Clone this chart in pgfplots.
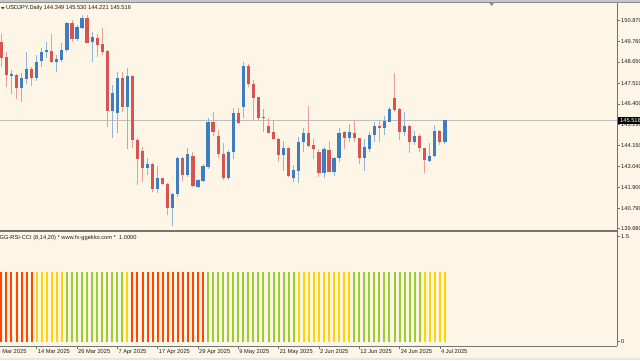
\documentclass[border=0pt]{standalone}
\usepackage{pgfplots}
\pgfplotsset{compat=1.18}
\usepackage{pgfplotstable}
\usepackage{fontspec}
\setmainfont{Liberation Sans}
\definecolor{bg}{RGB}{253,246,231}
\definecolor{bullc}{RGB}{62,126,192}
\definecolor{bearc}{RGB}{214,84,84}
\definecolor{framec}{RGB}{115,115,115}
\definecolor{txt}{RGB}{30,30,30}
\definecolor{bidc}{RGB}{190,190,190}
\definecolor{ored}{RGB}{255,69,0}
\definecolor{gold}{RGB}{255,212,0}
\definecolor{ygreen}{RGB}{154,205,50}
\newcommand\tf{\fontsize{5.7}{6.5}\selectfont}

\pgfplotstableread{
i o h l c
2 147.95 148.22 146.91 148.00
4 147.23 148.04 146.52 147.81
5 147.73 149.20 147.45 148.25
7 147.77 149.03 147.63 148.67
8 148.70 149.38 148.40 149.20
9 149.20 149.74 148.85 149.29
11 148.67 149.03 148.13 148.79
12 148.74 149.65 148.67 149.29
13 149.29 150.80 149.20 150.73
15 149.87 150.64 149.78 150.55
16 150.50 151.18 150.42 151.03
18 149.74 150.28 148.67 149.98
22 146.01 147.41 144.54 146.96
23 145.90 148.13 144.81 147.81
25 146.25 148.31 143.97 147.90
29 142.97 143.47 142.57 143.16
31 141.82 143.07 141.58 142.39
34 140.78 141.58 139.85 141.53
35 141.53 143.56 141.41 143.47
37 142.57 144.00 142.48 143.70
39 141.94 142.36 141.89 142.28
40 142.25 143.14 142.21 143.05
41 143.02 145.65 142.89 145.40
45 142.39 143.92 142.30 143.79
46 143.79 146.19 143.43 145.89
48 146.25 148.63 145.65 148.45
52 145.62 146.10 144.87 145.71
56 143.65 144.40 142.79 144.00
58 142.43 143.11 142.21 142.84
59 142.80 144.63 142.12 144.33
60 144.33 145.12 143.83 144.81
64 142.66 144.09 142.39 143.95
66 142.75 143.56 142.53 143.50
67 143.47 145.08 143.25 144.81
69 144.54 145.30 144.36 144.87
72 143.47 144.51 142.79 144.09
73 143.97 144.90 143.83 144.72
74 144.72 145.40 144.33 145.22
76 145.08 145.76 144.72 145.48
77 145.44 146.25 145.40 146.12
80 144.90 145.98 144.69 145.22
82 144.36 144.94 144.18 144.69
85 143.34 144.27 143.25 143.61
86 143.61 145.26 143.56 144.94
88 144.349 145.530 144.221 145.516
}\bull

\pgfplotstableread{
i o h l c
0 149.74 150.14 148.40 148.88
1 148.92 149.20 147.32 147.95
3 147.93 147.99 146.64 147.23
6 148.25 148.40 147.38 147.77
10 149.26 150.14 148.58 148.67
14 150.73 150.91 149.74 149.89
17 151.03 151.18 149.65 149.69
19 149.96 150.14 148.94 149.56
20 149.60 150.46 149.03 149.20
21 149.24 149.29 145.17 146.01
24 147.81 148.13 145.94 146.25
26 147.90 147.95 144.00 144.45
27 144.45 144.54 142.03 143.43
28 143.88 144.09 142.21 142.97
30 143.16 143.20 141.64 141.82
32 142.39 142.43 142.03 142.07
33 142.09 142.12 140.42 140.78
36 143.47 143.56 142.25 142.57
38 143.59 143.83 141.94 141.98
42 145.40 145.94 144.69 144.90
43 144.67 144.99 143.47 143.68
44 143.70 144.27 142.30 142.39
47 145.89 146.19 145.31 145.35
49 148.45 148.52 147.32 147.45
50 147.47 147.68 145.53 146.73
51 146.75 146.78 145.53 145.62
53 145.22 145.62 144.81 144.85
54 144.87 145.53 144.45 144.51
55 144.51 144.54 143.25 143.65
57 144.00 144.09 142.48 142.53
61 144.81 146.30 144.09 144.15
62 144.19 144.51 143.43 143.97
63 143.83 143.97 142.48 142.66
65 143.92 144.40 142.71 142.75
68 144.87 144.94 143.97 144.54
70 144.81 145.48 144.33 144.54
71 144.54 144.58 143.14 143.47
75 145.22 145.48 144.33 145.08
78 146.69 148.04 145.98 146.07
79 146.12 146.16 144.45 144.90
81 145.21 145.26 143.74 144.36
83 144.69 144.76 143.79 144.00
84 144.00 144.04 142.66 143.38
87 144.94 144.99 144.18 144.35
}\bear

\begin{document}
\begin{tikzpicture}[x=1pt,y=1pt]
\path[use as bounding box] (0,0) rectangle (640,360);
\clip (0,0) rectangle (640,360);
\fill[bg] (0,0) rectangle (640,360);
\fill[black!22] (0,357) rectangle (640,360);
\draw[black!45, line width=0.8pt] (0,357.2) -- (640,357.2);
\fill[black!10] (0,0) rectangle (640,2.5);

% main price panel
\begin{axis}[
  at={(0pt,130pt)}, anchor=south west, scale only axis,
  width=617pt, height=227pt,
  xmin=-0.278, xmax=122.14, ymin=139.612, ymax=151.823,
  axis line style={draw=none},
  xtick=\empty,
  ytick={139.68,140.79,141.90,143.04,144.15,145.29,146.40,147.51,148.65,149.76,150.87},
  yticklabels={139.680,140.790,141.900,143.040,144.150,145.290,146.400,147.510,148.650,149.760,150.870},
  ytick pos=right, yticklabel pos=right,
  tick align=outside, major tick length=3pt,
  tick style={draw=framec, line width=0.6pt},
  yticklabel style={font=\tf, text=txt, anchor=west, inner sep=0pt, xshift=1pt},
  clip=true,
]
\addplot[bidc, line width=0.9pt, mark=none, forget plot] coordinates {(-1,145.516) (123,145.516)};
% wicks
\addplot[draw=none, mark=none, forget plot,
  error bars/.cd, y dir=both, y explicit, error mark=none,
  error bar style={draw=bullc!55!bg, line width=0.9pt}]
  table[x=i, y expr={(\thisrow{h}+\thisrow{l})/2}, y error expr={(\thisrow{h}-\thisrow{l})/2}] {\bull};
\addplot[draw=none, mark=none, forget plot,
  error bars/.cd, y dir=both, y explicit, error mark=none,
  error bar style={draw=bearc!55!bg, line width=0.9pt}]
  table[x=i, y expr={(\thisrow{h}+\thisrow{l})/2}, y error expr={(\thisrow{h}-\thisrow{l})/2}] {\bear};
% bodies
\addplot[draw=none, mark=none, forget plot,
  error bars/.cd, y dir=both, y explicit, error mark=none,
  error bar style={draw=bullc, line width=3.2pt}]
  table[x=i, y expr={(\thisrow{o}+\thisrow{c})/2}, y error expr={max(abs(\thisrow{c}-\thisrow{o})/2,0.03)}] {\bull};
\addplot[draw=none, mark=none, forget plot,
  error bars/.cd, y dir=both, y explicit, error mark=none,
  error bar style={draw=bearc, line width=3.2pt}]
  table[x=i, y expr={(\thisrow{o}+\thisrow{c})/2}, y error expr={max(abs(\thisrow{c}-\thisrow{o})/2,0.03)}] {\bear};
\end{axis}

% indicator panel
\begin{axis}[
  at={(0pt,14pt)}, anchor=south west, scale only axis,
  width=617pt, height=114pt,
  xmin=-0.278, xmax=122.14, ymin=-0.0614, ymax=1.567,
  axis line style={draw=none},
  xtick={7,15,23,31,39,47,55,63,71,79,87},
  xticklabels={14 Mar 2025,26 Mar 2025,7 Apr 2025,17 Apr 2025,29 Apr 2025,9 May 2025,21 May 2025,2 Jun 2025,12 Jun 2025,24 Jun 2025,4 Jul 2025},
  xtick pos=bottom, xticklabel pos=bottom,
  ytick={0,1.5}, yticklabels={0,1.5},
  ytick pos=right, yticklabel pos=right,
  tick align=outside, major tick length=3pt,
  tick style={draw=framec, line width=0.6pt},
  yticklabel style={font=\tf, text=txt, anchor=west, inner sep=0pt, xshift=1pt},
  xticklabel style={font=\tf, text=txt, anchor=north west, inner sep=0pt, xshift=1pt, yshift=-0.5pt},
  clip=false,
]
\addplot[ycomb, draw=ored, line width=2pt, mark=none] coordinates {
(0,1)(1,1)(2,1)(3,1)(4,1)(5,1)(6,1)
(26,1)(27,1)(28,1)(29,1)(30,1)(31,1)(32,1)(33,1)(34,1)(35,1)(36,1)(37,1)(38,1)(39,1)(40,1)};
\addplot[ycomb, draw=gold, line width=2pt, mark=none] coordinates {
(7,1)(8,1)(9,1)(10,1)(11,1)(12,1)(25,1)
(59,1)(60,1)(61,1)(62,1)(63,1)(64,1)(65,1)(66,1)(67,1)(68,1)(69,1)
(84,1)(85,1)(86,1)(87,1)(88,1)};
\addplot[ycomb, draw=ygreen, line width=2pt, mark=none] coordinates {
(13,1)(14,1)(15,1)(16,1)(17,1)(18,1)(19,1)(20,1)(21,1)(22,1)(23,1)(24,1)
(41,1)(42,1)(43,1)(44,1)(45,1)(46,1)(47,1)(48,1)(49,1)(50,1)(51,1)(52,1)(53,1)(54,1)(55,1)(56,1)(57,1)(58,1)
(70,1)(71,1)(72,1)(73,1)(74,1)(75,1)(76,1)(77,1)(78,1)(79,1)(80,1)(81,1)(82,1)(83,1)};
\end{axis}

% frame
\draw[framec, line width=0.8pt] (617,357) -- (617,13.8);
\draw[framec, line width=2pt] (0,129) -- (617,129);
\draw[framec, line width=0.8pt] (0,14) -- (617.4,14);
% first time label, partly off the left edge
\node[anchor=north west, font=\tf, text=txt, inner sep=0pt] at (-2.6,10.5) {4 Mar 2025};
% markers
\fill[black!75] (1,353) -- (4.6,353) -- (2.8,350.6) -- cycle;
\fill[black!45] (489.4,357) -- (494,357) -- (491.7,354) -- cycle;
% price box
\fill[black] (618,236) rectangle (640,243.4);
\node[anchor=west, font=\tf, text=white, inner sep=0pt] at (620,239.7) {145.516};
% texts
\node[anchor=west, font=\tf, text=txt, inner sep=0pt] at (6,351.7) {USDJPY,Daily 144.349 145.530 144.221 145.516};
\node[anchor=west, font=\tf, text=txt, inner sep=0pt] at (-0.5,122.3) {GG-RSI-CCI (8,14,20) * www.fx-ggekko.com *\ \ 1.0000};
\end{tikzpicture}
\end{document}
